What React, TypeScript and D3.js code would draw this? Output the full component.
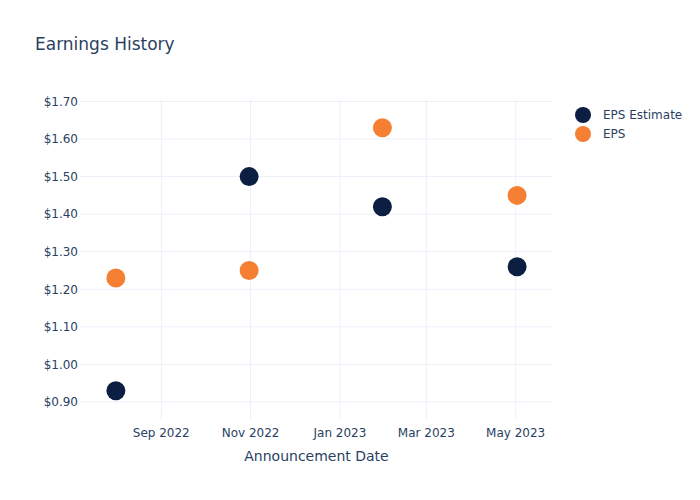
import React from "react";
import * as d3 from "d3";

const dates = ["2022-08-01", "2022-10-31", "2023-01-30", "2023-05-02"];
const epsEstimate = [0.93, 1.5, 1.42, 1.26];
const eps = [1.23, 1.25, 1.63, 1.45];
const yTicks = [0.9, 1.0, 1.1, 1.2, 1.3, 1.4, 1.5, 1.6, 1.7];
const xTicks = ["2022-09-01", "2022-11-01", "2023-01-01", "2023-03-01", "2023-05-01"];
const seriesNames = ["EPS Estimate", "EPS"];
const seriesColors = ["#0c1f42", "#f58033"];

const W = 700;
const H = 500;
const M = { l: 80, r: 147, t: 100, b: 80 };
const FONT = "'DejaVu Sans', sans-serif";
const TEXT = "#2a3f5f";
const GRID = "#ebf0f8";

export default function App() {
  const parse = (s: string) => new Date(s + "T00:00:00Z");
  const x = d3
    .scaleUtc()
    .domain([new Date("2022-07-07T12:00:00Z"), new Date("2023-05-26T12:00:00Z")])
    .range([M.l, W - M.r]);
  const y = d3.scaleLinear().domain([0.852, 1.704]).range([H - M.b, M.t]);
  const fmtX = d3.utcFormat("%b %Y");
  const series = [epsEstimate, eps];

  return (
    <svg width={W} height={H} style={{ position: "absolute", left: 0, top: 0, fontFamily: FONT }}>
      <rect x={0} y={0} width={W} height={H} fill="#fff" />
      <g>
        {xTicks.map((t) => (
          <line key={t} x1={x(parse(t))} x2={x(parse(t))} y1={M.t} y2={H - M.b} stroke={GRID} strokeWidth={1} />
        ))}
        {yTicks.map((t) => (
          <line key={t} x1={M.l} x2={W - M.r} y1={y(t)} y2={y(t)} stroke={GRID} strokeWidth={1} />
        ))}
      </g>
      <g fontSize={12} fill={TEXT}>
        {yTicks.map((t) => (
          <text key={t} x={M.l - 2} y={y(t)} dy="0.36em" textAnchor="end">
            {"$" + t.toFixed(2)}
          </text>
        ))}
        {xTicks.map((t) => (
          <text key={t} x={x(parse(t))} y={H - M.b + 17} textAnchor="middle">
            {fmtX(parse(t))}
          </text>
        ))}
      </g>
      <text x={(M.l + W - M.r) / 2} y={461} fontSize={14} fill={TEXT} textAnchor="middle">
        Announcement Date
      </text>
      <text x={35} y={50} fontSize={17} fill={TEXT}>
        Earnings History
      </text>
      {series.map((vals, si) => (
        <g key={si}>
          {vals.map((v, i) => (
            <circle key={i} cx={x(parse(dates[i]))} cy={y(v)} r={9.5} fill={seriesColors[si]} />
          ))}
        </g>
      ))}
      <g fontSize={12} fill={TEXT}>
        {seriesNames.map((n, i) => (
          <g key={n} transform={`translate(583, ${115 + i * 19})`}>
            <circle cx={0} cy={0} r={8} fill={seriesColors[i]} />
            <text x={20} y={0} dy="0.36em">
              {n}
            </text>
          </g>
        ))}
      </g>
    </svg>
  );
}
